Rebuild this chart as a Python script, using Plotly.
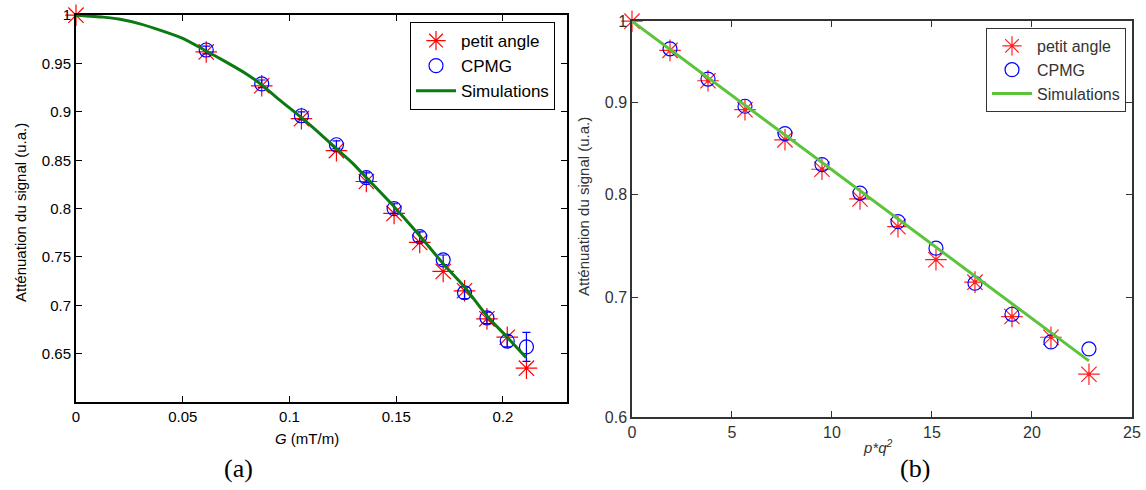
import plotly.graph_objects as go

# ---- Data (a) ----
G = [0, 0.061, 0.087, 0.1056, 0.122, 0.136, 0.149, 0.161, 0.172, 0.182, 0.1925, 0.202, 0.211]
petit_a = [1.0, 0.962, 0.927, 0.893, 0.860, 0.828, 0.795, 0.765, 0.735, 0.715, 0.686, 0.667, 0.635]
cpmg_a = [None, 0.964, 0.929, 0.896, 0.866, 0.832, 0.800, 0.771, 0.747, 0.713, 0.687, 0.663, 0.657]
cpmg_a_err = [0.0, 0.004, 0.004, 0.004, 0.004, 0.005, 0.005, 0.005, 0.005, 0.006, 0.006, 0.006, 0.015]
sim_G = [0, 0.0127, 0.02, 0.03, 0.04, 0.05, 0.061, 0.07, 0.08, 0.087, 0.095, 0.1056, 0.115,
         0.122, 0.13, 0.136, 0.149, 0.161, 0.172, 0.182, 0.1925, 0.202, 0.2108]
sim_a = [1.0, 0.998, 0.996, 0.991, 0.984, 0.976, 0.963, 0.952, 0.939, 0.928, 0.913, 0.894, 0.876,
         0.862, 0.846, 0.832, 0.802, 0.772, 0.743, 0.719, 0.689, 0.667, 0.646]

# ---- Data (b) ----
pq2 = [0, 1.9, 3.8, 5.65, 7.65, 9.5, 11.4, 13.3, 15.2, 17.15, 19.0, 20.95, 22.85]
petit_b = [1.0, 0.963, 0.926, 0.892, 0.858, 0.826, 0.795, 0.767, 0.735, 0.714, 0.683, 0.665, 0.634]
cpmg_b = [None, 0.965, 0.928, 0.896, 0.865, 0.831, 0.801, 0.772, 0.746, 0.713, 0.685, 0.661, 0.655]
sim_pq2 = [0, 5.65, 11.4, 17.15, 22.85]
sim_b = [1.0, 0.897, 0.803, 0.719, 0.645]

fig = go.Figure()

# (a)
fig.add_trace(go.Scatter(x=G, y=petit_a, mode="markers", name="petit angle", cliponaxis=False,
                         marker=dict(symbol="asterisk-open", size=18, color="red",
                                     line=dict(color="red", width=1.2)),
                         xaxis="x", yaxis="y", legend="legend"))
fig.add_trace(go.Scatter(x=G, y=cpmg_a, mode="markers", name="CPMG", cliponaxis=False,
                         error_y=dict(type="data", array=cpmg_a_err, color="blue", thickness=1.2, width=4),
                         marker=dict(symbol="circle-open", size=14, color="blue",
                                     line=dict(color="blue", width=1.2)),
                         xaxis="x", yaxis="y", legend="legend"))
fig.add_trace(go.Scatter(x=sim_G, y=sim_a, mode="lines", name="Simulations",
                         line=dict(color="#0b7a12", width=3, shape="spline", smoothing=0.6),
                         xaxis="x", yaxis="y", legend="legend"))

# (b)
fig.add_trace(go.Scatter(x=pq2, y=petit_b, mode="markers", name="petit angle", cliponaxis=False,
                         marker=dict(symbol="asterisk-open", size=18, color="#ff2020",
                                     line=dict(color="#ff2020", width=1.2)),
                         xaxis="x2", yaxis="y2", legend="legend2"))
fig.add_trace(go.Scatter(x=pq2, y=petit_b, mode="markers", showlegend=False, cliponaxis=False,
                         marker=dict(symbol="circle", size=4, color="#ff2020"),
                         xaxis="x2", yaxis="y2", hoverinfo="skip"))
fig.add_trace(go.Scatter(x=pq2, y=cpmg_b, mode="markers", name="CPMG", cliponaxis=False,
                         marker=dict(symbol="circle-open", size=14, color="blue",
                                     line=dict(color="blue", width=1.2)),
                         xaxis="x2", yaxis="y2", legend="legend2"))
fig.add_trace(go.Scatter(x=sim_pq2, y=sim_b, mode="lines", name="Simulations",
                         line=dict(color="#5cc43a", width=3),
                         xaxis="x2", yaxis="y2", legend="legend2"))

W, H = 1146, 490
def px(x): return x / W
def py(y): return (H - y) / H

axis_common = dict(showgrid=False, zeroline=False, ticks="inside", ticklen=6,
                   showline=True, mirror="ticks", automargin=False)

SANS = "Liberation Sans"
SERIF = "Liberation Serif"
GREY = "#333333"

def ann(text, x, y, size, color="black", family=SANS, angle=0):
    return dict(text=text, x=px(x), y=py(y), xref="paper", yref="paper", showarrow=False,
                xanchor="center", yanchor="middle", textangle=angle,
                font=dict(family=family, size=size, color=color))

fig.update_layout(
    width=W, height=H, margin=dict(l=0, r=0, t=0, b=0, autoexpand=False),
    paper_bgcolor="white", plot_bgcolor="white",
    font=dict(family=SANS, color="black"),
    xaxis=dict(domain=[px(76), px(567)], range=[0, 0.23], anchor="y",
               tickvals=[0, 0.05, 0.1, 0.15, 0.2], ticktext=["0", "0.05", "0.1", "0.15", "0.2"],
               linecolor="black", linewidth=2, tickcolor="black", tickwidth=1.2,
               tickfont=dict(size=15, family=SANS), **axis_common),
    yaxis=dict(domain=[py(402), py(15)], range=[0.6, 1.0002], anchor="x",
               tickvals=[0.65, 0.7, 0.75, 0.8, 0.85, 0.9, 0.95, 1.0],
               ticktext=["0.65", "0.7", "0.75", "0.8", "0.85", "0.9", "0.95", "1"],
               linecolor="black", linewidth=2, tickcolor="black", tickwidth=1.2,
               tickfont=dict(size=15, family=SANS), **axis_common),
    xaxis2=dict(domain=[px(632), px(1132)], range=[0, 25.002], anchor="y2",
                tickvals=[0, 5, 10, 15, 20, 25],
                linecolor=GREY, linewidth=1.5, tickcolor=GREY, tickwidth=1,
                tickfont=dict(size=16, color=GREY, family=SANS), **axis_common),
    yaxis2=dict(domain=[py(417), py(21)], type="log", range=[-0.2219, 0.0001], anchor="x2",
                tickvals=[0.6, 0.7, 0.8, 0.9, 1.0], ticktext=["0.6", "0.7", "0.8", "0.9", "1"],
                linecolor=GREY, linewidth=1.5, tickcolor=GREY, tickwidth=1,
                tickfont=dict(size=16, color=GREY, family=SANS), **axis_common),
    legend=dict(x=px(555), xanchor="right", y=py(22), yanchor="top",
                bgcolor="white", bordercolor="black", borderwidth=1,
                font=dict(size=17, family=SANS), tracegroupgap=0, itemwidth=40),
    legend2=dict(x=px(1126), xanchor="right", y=py(28), yanchor="top",
                 bgcolor="white", bordercolor=GREY, borderwidth=1,
                 font=dict(size=16, color=GREY, family=SANS), tracegroupgap=0, itemwidth=40),
    annotations=[
        ann("<i>G</i> (mT/m)", 307, 438, 15),
        ann("Atténuation du signal (u.a.)", 20, 213, 15, angle=-90),
        ann("<i>p*q<sup>2</sup></i>", 878, 446, 15, color=GREY),
        ann("Atténuation du signal (u.a.)", 584, 207, 15, color=GREY, angle=-90),
        ann("(a)", 238, 468, 26, family=SERIF),
        ann("(b)", 915, 468, 26, family=SERIF),
    ],
)

# Remove the default 8px page margin so the figure sits at the window's top-left corner.
fig.write_html("out.html", config={"displayModeBar": False},
               post_script="document.body.style.margin='0';document.body.style.overflow='hidden';")
